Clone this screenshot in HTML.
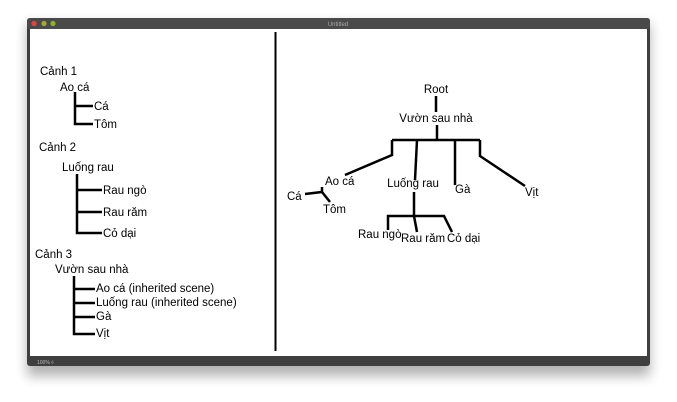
<!DOCTYPE html>
<html><head><meta charset="utf-8"><style>
html,body{margin:0;padding:0;background:#fff;width:677px;height:402px;overflow:hidden}
svg{display:block}
text{font-family:"Liberation Sans",sans-serif;font-size:11.5px;fill:#000}
</style></head><body>
<svg width="677" height="402" viewBox="0 0 677 402" xmlns="http://www.w3.org/2000/svg">
<defs><filter id="sh" x="-10%" y="-10%" width="120%" height="130%"><feGaussianBlur stdDeviation="6"/></filter></defs>
<rect x="27" y="24" width="623" height="352" fill="#000" opacity="0.3" filter="url(#sh)"/>
<rect x="27" y="18" width="623" height="348" fill="#3f3f3f" rx="3"/>
<rect x="27" y="18" width="623" height="11" fill="#4a4a4a" rx="3"/>
<circle cx="34" cy="23.5" r="2.6" fill="#e0443e"/>
<circle cx="44" cy="23.5" r="2.6" fill="#a8a532"/>
<circle cx="53" cy="23.5" r="2.6" fill="#8fb02a"/>
<text x="338" y="26" text-anchor="middle" style="font-size:6px;fill:#aaa">Untitled</text>
<rect x="30" y="29" width="617" height="327" fill="#fff"/>
<text x="37" y="364" style="font-size:5px;fill:#bbb">100%  ◊</text>
<line x1="275.5" y1="32" x2="275.5" y2="351" stroke="#000" stroke-width="2"/>
<g stroke="#000" stroke-width="2.5" fill="none">
<path d="M75 92V124H93M75 106H93"/>
<path d="M77 174V233H102M77 190H102M77 212H102"/>
<path d="M74 276V334H95M74 289H95M74 303H95M74 317H95"/>
<path d="M436 96V112M437 125V140M392 140H480"/>
<path d="M392 140V155L345 175"/>
<path d="M417 140L415 180M414 192V216"/>
<path d="M455 140V185"/>
<path d="M480 140V156L525 186"/>
<path d="M305 194L322 192L330 202M322 192V187"/>
<path d="M388 230V216H444L452 232M414 216L417 232"/>
</g>
<text x="40" y="75">Cảnh 1</text>
<text x="60" y="91">Ao cá</text>
<text x="94" y="110">Cá</text>
<text x="94" y="128">Tôm</text>
<text x="39" y="151">Cảnh 2</text>
<text x="62" y="171">Luống rau</text>
<text x="103" y="194">Rau ngò</text>
<text x="103" y="216">Rau răm</text>
<text x="103" y="237">Cỏ dại</text>
<text x="35" y="258">Cảnh 3</text>
<text x="55" y="273">Vườn sau nhà</text>
<text x="96" y="292">Ao cá (inherited scene)</text>
<text x="96" y="306">Luống rau (inherited scene)</text>
<text x="96" y="320">Gà</text>
<text x="96" y="337">Vịt</text>
<text x="436" y="93" text-anchor="middle">Root</text>
<text x="436" y="122" text-anchor="middle">Vườn sau nhà</text>
<text x="325" y="185">Ao cá</text>
<text x="287" y="200">Cá</text>
<text x="323" y="213">Tôm</text>
<text x="413" y="187" text-anchor="middle">Luống rau</text>
<text x="455" y="193">Gà</text>
<text x="525" y="196">Vịt</text>
<text x="358" y="238">Rau ngò</text>
<text x="401" y="242">Rau răm</text>
<text x="447" y="242">Cỏ dại</text>
</svg>
</body></html>
